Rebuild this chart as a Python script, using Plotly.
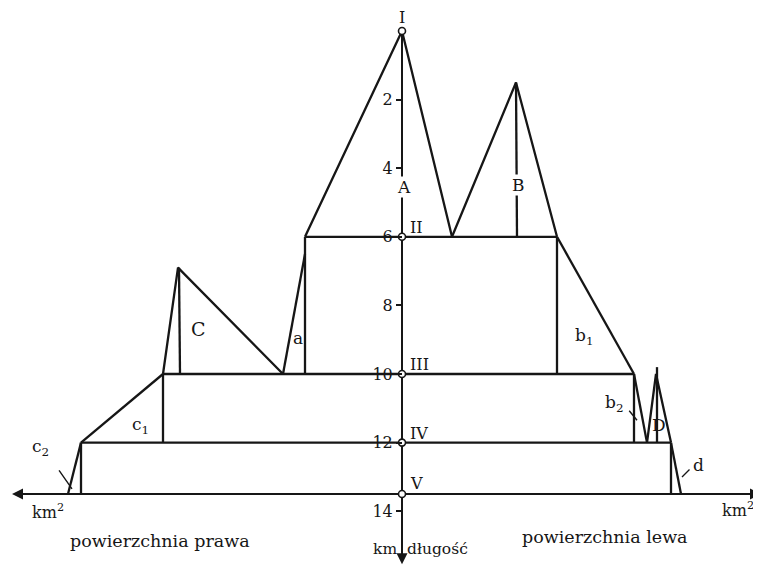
import plotly.graph_objects as go

# ---------------- data ----------------
# gauging nodes on the main river (length in km)
node_names = ["I", "II", "III", "IV", "V"]
node_km = [0, 6, 10, 12, 13.5]
# cumulative catchment area at each node (right bank drawn to the left = negative)
right_bank_area = [0, -9.7, -23.9, -32.1, -33.4]
left_bank_area = [0, 15.5, 23.2, 26.9, 27.9]

# tributary outlines (area, km)
trib_A_area = [-9.7, 0, 5.0]
trib_A_km = [6, 0, 6]
trib_B_area = [5.0, 11.4, 15.5]
trib_B_km = [6, 1.5, 6]
stem_B_area = [11.4, 11.5]
stem_B_km = [1.5, 6]
trib_a_area = [-11.9, -9.7]
trib_a_km = [10, 6.5]
trib_C_area = [-23.9, -22.4, -11.9]
trib_C_km = [10, 6.9, 10]
stem_C_area = [-22.3, -22.2]
stem_C_km = [6.9, 10]
trib_b1_area = [15.5, 23.2]
trib_b1_km = [6, 10]
trib_c1_area = [-23.9, -32.1]
trib_c1_km = [10, 12]
trib_b2_area = [23.2, 24.5]
trib_b2_km = [10, 12]
trib_D_area = [24.5, 25.4, 26.9]
trib_D_km = [12, 10, 12]
stem_D_area = [25.5, 25.5]
stem_D_km = [9.8, 12]
trib_c2_area = [-32.1, -33.4]
trib_c2_km = [12, 13.5]
trib_d_area = [26.9, 27.9]
trib_d_km = [12, 13.5]

axis_ticks = [2, 4, 6, 8, 10, 12, 14]
axis_bottom_km = 15.4

# ---------------- figure ----------------
INK = "#161616"
LW = 2.3
FONT = "DejaVu Serif"
OFF = 8  # page body margin of the html page (px)
X0 = 402 - OFF  # pixel of area = 0 inside the figure
Y0 = 31 - OFF   # pixel of km = 0 inside the figure
PXU = 10.0      # px per area unit
PYK = 34.3      # px per km

fig = go.Figure()


def seg(xs, ys, width=LW):
    fig.add_trace(go.Scatter(x=xs, y=ys, mode="lines",
                             line=dict(color=INK, width=width),
                             hoverinfo="skip", showlegend=False))


# bands between successive nodes
for i in range(1, 4):
    seg([right_bank_area[i], left_bank_area[i]], [node_km[i], node_km[i]])
    seg([right_bank_area[i], right_bank_area[i]], [node_km[i], node_km[i + 1]])
    seg([left_bank_area[i], left_bank_area[i]], [node_km[i], node_km[i + 1]])

for xs, ys in [(trib_A_area, trib_A_km), (trib_B_area, trib_B_km),
               (stem_B_area, stem_B_km), (trib_a_area, trib_a_km),
               (trib_C_area, trib_C_km), (stem_C_area, stem_C_km),
               (trib_b1_area, trib_b1_km), (trib_c1_area, trib_c1_km),
               (trib_b2_area, trib_b2_km), (trib_D_area, trib_D_km),
               (stem_D_area, stem_D_km), (trib_c2_area, trib_c2_km),
               (trib_d_area, trib_d_km)]:
    seg(xs, ys)

# main axes
seg([0, 0], [node_km[0], axis_bottom_km], width=2)
seg([-38.8, 35.8], [node_km[-1], node_km[-1]], width=2)

# nodes
fig.add_trace(go.Scatter(x=[0] * len(node_km), y=node_km, mode="markers",
                         marker=dict(symbol="circle", size=7, color="white",
                                     line=dict(color=INK, width=1.6)),
                         hoverinfo="skip", showlegend=False))

ann = []
# Roman numerals
roman_pos = [(0, -0.4, "center"), (0.6, 5.72, "left"), (0.6, 9.72, "left"),
             (0.6, 11.72, "left"), (0.6, 13.2, "left")]
for name, (x, y, xa) in zip(node_names, roman_pos):
    ann.append(dict(x=x, y=y, text=name, xanchor=xa, yanchor="middle",
                    showarrow=False, font=dict(family=FONT, size=16, color=INK)))


def lab(x, y, t, size=17, bg=None):
    d = dict(x=x, y=y, text=t, showarrow=False, xanchor="center", yanchor="middle",
             font=dict(family=FONT, size=size, color=INK))
    if bg:
        d["bgcolor"] = bg
        d["borderpad"] = 0
    ann.append(d)


lab(0.2, 4.55, "A", bg="white")
lab(11.6, 4.5, "B", bg="white")
lab(-20.4, 8.7, "C", size=19)
lab(-10.4, 8.95, "a")
lab(18.2, 8.9, "b<sub>1</sub>")
lab(-26.2, 11.5, "c<sub>1</sub>")
lab(21.2, 10.85, "b<sub>2</sub>")
lab(25.7, 11.5, "D")
lab(29.6, 12.65, "d")
lab(-36.2, 12.15, "c<sub>2</sub>")

# leader lines
for (x, y, axp, ayp) in [(23.5, 11.35, -9, -11), (28.0, 13.0, 9, -9), (-33.0, 13.35, -14, -20)]:
    ann.append(dict(x=x, y=y, ax=axp, ay=ayp, showarrow=True, arrowhead=0,
                    arrowwidth=1.4, arrowcolor=INK, text=""))

# axis arrow heads
ann.append(dict(x=-39.0, y=node_km[-1], ax=-37.0, ay=node_km[-1], axref="x", ayref="y",
                showarrow=True, arrowhead=2, arrowsize=1.1, arrowwidth=2,
                arrowcolor=INK, text=""))
ann.append(dict(x=35.9, y=node_km[-1], ax=34.0, ay=node_km[-1], axref="x", ayref="y",
                showarrow=True, arrowhead=2, arrowsize=1.1, arrowwidth=2,
                arrowcolor=INK, text=""))
ann.append(dict(x=0, y=15.55, ax=0, ay=15.0, axref="x", ayref="y",
                showarrow=True, arrowhead=2, arrowsize=1.1, arrowwidth=2,
                arrowcolor=INK, text=""))

# texts
ann.append(dict(x=-35.4, y=14.0, text="km<sup>2</sup>", showarrow=False,
                font=dict(family=FONT, size=16, color=INK)))
ann.append(dict(x=33.6, y=13.95, text="km<sup>2</sup>", showarrow=False,
                font=dict(family=FONT, size=16, color=INK)))
ann.append(dict(x=-24.2, y=14.87, text="powierzchnia prawa", showarrow=False,
                font=dict(family=FONT, size=17.5, color=INK)))
ann.append(dict(x=20.3, y=14.75, text="powierzchnia lewa", showarrow=False,
                font=dict(family=FONT, size=17.5, color=INK)))
ann.append(dict(x=-0.3, y=15.1, text="km", xanchor="right", showarrow=False,
                font=dict(family=FONT, size=15.5, color=INK)))
ann.append(dict(x=0.3, y=15.1, text="długość", xanchor="left", showarrow=False,
                font=dict(family=FONT, size=15.5, color=INK)))

fig.update_layout(
    width=761, height=565,
    margin=dict(l=0, r=0, t=0, b=0),
    paper_bgcolor="white", plot_bgcolor="white",
    annotations=ann,
    xaxis=dict(range=[-X0 / PXU, (761 - X0) / PXU], visible=False, fixedrange=True),
    yaxis=dict(range=[(565 - Y0) / PYK, -Y0 / PYK], anchor="free", position=X0 / 761,
               side="left", showgrid=False, zeroline=False, showline=False,
               ticks="outside", ticklen=6, tickwidth=1.6, tickcolor=INK,
               tickvals=axis_ticks, ticktext=[str(v) for v in axis_ticks],
               tickfont=dict(family=FONT, size=16, color=INK), fixedrange=True),
)

fig.write_html("out.html")
